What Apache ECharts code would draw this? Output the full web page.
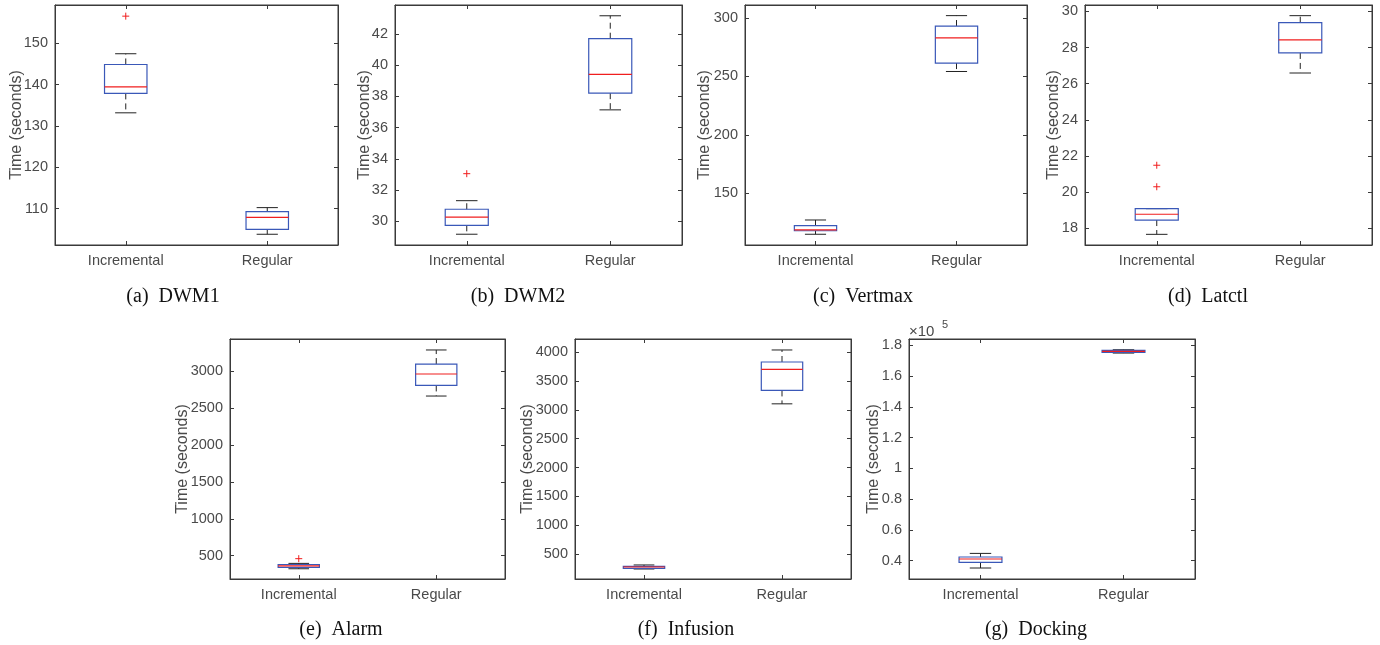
<!DOCTYPE html>
<html>
<head>
<meta charset="utf-8">
<script src="https://cdn.jsdelivr.net/npm/echarts@6/dist/echarts.min.js"></script>
<style>html,body{margin:0;padding:0;background:#fff}#chart{width:1380px;height:645px}</style>
</head>
<body>
<div id="chart"></div>
<script>
// ---------- data (box stats: [lowWhisker, Q1, median, Q3, highWhisker]) ----------
const categories = ['Incremental', 'Regular'];

const dwm1Incremental = [133.2, 137.9, 139.5, 144.9, 147.5];
const dwm1Regular     = [103.8, 105.0, 107.9, 109.3, 110.25];
const dwm1Outliers    = [[0, 156.6]];
const dwm1Ticks       = [110, 120, 130, 140, 150];

const dwm2Incremental = [29.17, 29.74, 30.26, 30.77, 31.32];
const dwm2Regular     = [37.14, 38.21, 39.41, 41.70, 43.17];
const dwm2Outliers    = [[0, 33.05]];
const dwm2Ticks       = [30, 32, 34, 36, 38, 40, 42];

const vertmaxIncremental = [114.9, 117.9, 118.6, 122.2, 127.1];
const vertmaxRegular     = [254.2, 261.4, 282.9, 293.1, 302.0];
const vertmaxOutliers    = [];
const vertmaxTicks       = [150, 200, 250, 300];

const latctlIncremental = [17.67, 18.46, 18.78, 19.09, 19.09];
const latctlRegular     = [26.59, 27.70, 28.42, 29.37, 29.76];
const latctlOutliers    = [[0, 20.30], [0, 21.49]];
const latctlTicks       = [18, 20, 22, 24, 26, 28, 30];

const alarmIncremental = [322, 340, 362, 380, 395];
const alarmRegular     = [2666, 2810, 2965, 3100, 3291];
const alarmOutliers    = [[0, 459]];
const alarmTicks       = [500, 1000, 1500, 2000, 2500, 3000];

const infusionIncremental = [245, 257, 280, 292, 315];
const infusionRegular     = [3103, 3335, 3700, 3827, 4035];
const infusionOutliers    = [];
const infusionTicks       = [500, 1000, 1500, 2000, 2500, 3000, 3500, 4000];

const dockingIncremental = [35250, 38900, 41100, 42400, 44750];
const dockingRegular     = [175050, 175450, 176100, 176750, 177200];
const dockingOutliers    = [];
const dockingTicks       = [40000, 60000, 80000, 100000, 120000, 140000, 160000, 180000];

const captions = ['(a)\u2002DWM1', '(b)\u2002DWM2', '(c)\u2002Vertmax', '(d)\u2002Latctl',
                  '(e)\u2002Alarm', '(f)\u2002Infusion', '(g)\u2002Docking'];
const yAxisTitle = 'Time (seconds)';

// ---------- layout ----------
const panels = [
  {inc: dwm1Incremental, reg: dwm1Regular, out: dwm1Outliers, ticks: dwm1Ticks, min: 101.2, max: 159.3,
   grid: {left: 55, top: 5, width: 283, height: 240}, nameGap: 30.5, cap: [173, 297]},
  {inc: dwm2Incremental, reg: dwm2Regular, out: dwm2Outliers, ticks: dwm2Ticks, min: 28.48, max: 43.86,
   grid: {left: 395, top: 5, width: 287, height: 240}, nameGap: 22, cap: [518, 297]},
  {inc: vertmaxIncremental, reg: vertmaxRegular, out: vertmaxOutliers, ticks: vertmaxTicks, min: 105.7, max: 311.1,
   grid: {left: 745, top: 5, width: 282, height: 240}, nameGap: 32, cap: [863, 297]},
  {inc: latctlIncremental, reg: latctlRegular, out: latctlOutliers, ticks: latctlTicks, min: 17.08, max: 30.35,
   grid: {left: 1085, top: 5, width: 287, height: 240}, nameGap: 23, cap: [1208, 297]},
  {inc: alarmIncremental, reg: alarmRegular, out: alarmOutliers, ticks: alarmTicks, min: 183, max: 3440,
   grid: {left: 230, top: 339, width: 275, height: 240}, nameGap: 39.5, cap: [341, 630]},
  {inc: infusionIncremental, reg: infusionRegular, out: infusionOutliers, ticks: infusionTicks, min: 72, max: 4225,
   grid: {left: 575, top: 339, width: 276, height: 240}, nameGap: 39.5, cap: [686, 630]},
  {inc: dockingIncremental, reg: dockingRegular, out: dockingOutliers, ticks: dockingTicks, min: 28100, max: 184200,
   grid: {left: 909, top: 339, width: 286, height: 240}, nameGap: 27.5, cap: [1036, 630], sci: 1e5}
];

const axisColor = '#3a3a3a';
const labelColor = '#4a4a4a';
const boxColor = '#3a58b8';
const medColor = '#f01e1e';
const whiskColor = '#222222';

function renderBox(params, api) {
  const x = api.value(0);
  const bw = api.size([1, 0])[0] * 0.3;
  const cx = api.coord([x, api.value(3)])[0];
  const yLow = api.coord([x, api.value(1)])[1];
  const yQ1 = api.coord([x, api.value(2)])[1];
  const yMed = api.coord([x, api.value(3)])[1];
  const yQ3 = api.coord([x, api.value(4)])[1];
  const yHigh = api.coord([x, api.value(5)])[1];
  const dashed = {stroke: whiskColor, lineWidth: 1, lineDash: [6, 4], fill: null};
  const solid = {stroke: whiskColor, lineWidth: 1, fill: null};
  return {
    type: 'group',
    children: [
      {type: 'line', shape: {x1: cx, y1: yQ3, x2: cx, y2: yHigh}, style: dashed},
      {type: 'line', shape: {x1: cx, y1: yQ1, x2: cx, y2: yLow}, style: dashed},
      {type: 'line', shape: {x1: cx - bw / 4, y1: yHigh, x2: cx + bw / 4, y2: yHigh}, style: solid},
      {type: 'line', shape: {x1: cx - bw / 4, y1: yLow, x2: cx + bw / 4, y2: yLow}, style: solid},
      {type: 'rect', shape: {x: cx - bw / 2, y: yQ3, width: bw, height: yQ1 - yQ3},
       style: {stroke: boxColor, lineWidth: 1.2, fill: null}},
      {type: 'line', shape: {x1: cx - bw / 2, y1: yMed, x2: cx + bw / 2, y2: yMed},
       style: {stroke: medColor, lineWidth: 1.2}}
    ]
  };
}

function renderOutlier(params, api) {
  const p = api.coord([api.value(0), api.value(1)]);
  const h = 3.5;
  const st = {stroke: medColor, lineWidth: 1};
  return {
    type: 'group',
    children: [
      {type: 'line', shape: {x1: p[0] - h, y1: p[1], x2: p[0] + h, y2: p[1]}, style: st},
      {type: 'line', shape: {x1: p[0], y1: p[1] - h, x2: p[0], y2: p[1] + h}, style: st}
    ]
  };
}

const grid = [], xAxis = [], yAxis = [], series = [], graphic = [];
const font = 'Liberation Sans';

panels.forEach((p, i) => {
  grid.push(Object.assign({show: true, borderColor: axisColor, borderWidth: 1, containLabel: false}, p.grid));
  const fmt = p.sci ? (v => String(+(v / p.sci).toFixed(2))) : (v => String(v));
  xAxis.push({
    type: 'category', gridIndex: i, data: categories, position: 'bottom',
    axisLine: {show: true, lineStyle: {color: axisColor}},
    axisTick: {show: true, inside: true, alignWithLabel: true, length: 4, lineStyle: {color: axisColor}},
    axisLabel: {color: labelColor, fontSize: 14.5, fontFamily: font, margin: 8},
    splitLine: {show: false}
  });
  xAxis.push({
    type: 'category', gridIndex: i, data: categories, position: 'top',
    axisLine: {show: true, lineStyle: {color: axisColor}},
    axisTick: {show: true, inside: true, alignWithLabel: true, length: 4, lineStyle: {color: axisColor}},
    axisLabel: {show: false}, splitLine: {show: false}
  });
  yAxis.push({
    type: 'value', gridIndex: i, min: p.min, max: p.max, position: 'left',
    name: yAxisTitle, nameLocation: 'middle', nameGap: p.nameGap, nameRotate: 90,
    nameMoveOverlap: false,
    nameTextStyle: {color: labelColor, fontSize: 16, fontFamily: font},
    axisLine: {show: true, lineStyle: {color: axisColor}},
    axisTick: {show: true, inside: true, length: 4, customValues: p.ticks, lineStyle: {color: axisColor}},
    axisLabel: {color: labelColor, fontSize: 14.5, fontFamily: font, margin: 7, customValues: p.ticks, formatter: fmt},
    splitLine: {show: false}
  });
  yAxis.push({
    type: 'value', gridIndex: i, min: p.min, max: p.max, position: 'right',
    axisLine: {show: true, lineStyle: {color: axisColor}},
    axisTick: {show: true, inside: true, length: 4, customValues: p.ticks, lineStyle: {color: axisColor}},
    axisLabel: {show: false, customValues: p.ticks},
    splitLine: {show: false}
  });
  series.push({
    type: 'custom', xAxisIndex: 2 * i, yAxisIndex: 2 * i,
    renderItem: renderBox,
    encode: {x: 0, y: [1, 2, 3, 4, 5]},
    data: [[0].concat(p.inc), [1].concat(p.reg)],
    silent: true, animation: false
  });
  series.push({
    type: 'custom', xAxisIndex: 2 * i, yAxisIndex: 2 * i,
    renderItem: renderOutlier,
    encode: {x: 0, y: 1},
    data: p.out,
    silent: true, animation: false
  });
  graphic.push({
    type: 'text', x: p.cap[0], y: p.cap[1],
    style: {text: captions[i], textAlign: 'center', textVerticalAlign: 'middle',
            font: '20px "Liberation Serif"', fill: '#111'}
  });
});

// x10^5 multiplier for the docking panel
graphic.push({type: 'text', x: 909, y: 332,
  style: {text: '×10', textAlign: 'left', textVerticalAlign: 'middle', font: '15px "Liberation Sans"', fill: labelColor}});
graphic.push({type: 'text', x: 942, y: 325,
  style: {text: '5', textAlign: 'left', textVerticalAlign: 'middle', font: '11px "Liberation Sans"', fill: labelColor}});

const chart = echarts.init(document.getElementById('chart'), null, {renderer: 'canvas'});
chart.setOption({animation: false, backgroundColor: '#fff', grid, xAxis, yAxis, series, graphic});
</script>
</body>
</html>
